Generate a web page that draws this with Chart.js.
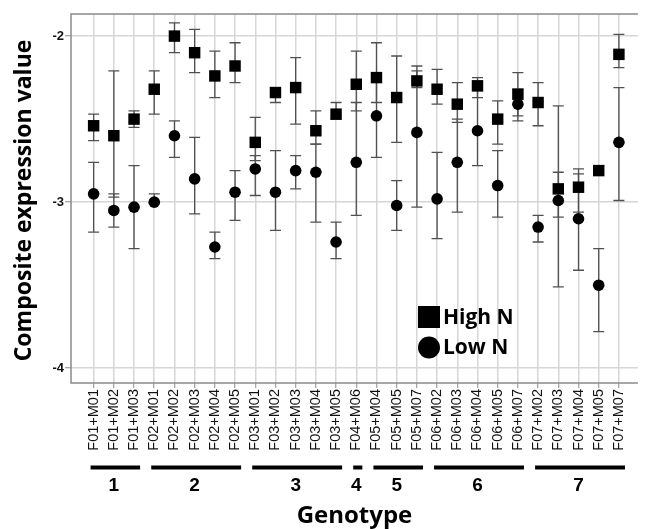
<!DOCTYPE html>
<html>
<head>
<meta charset="utf-8">
<script src="https://cdn.jsdelivr.net/npm/chart.js@4.4.1/dist/chart.umd.min.js"></script>
<style>
  html, body { margin: 0; padding: 0; background: #fff; }
  #wrap { width: 646px; height: 529px; }
</style>
</head>
<body>
<div id="wrap"><canvas id="exprChart" width="646" height="529"></canvas></div>
<script>
// genotypes along the x axis
const genotypes = ['F01+M01', 'F01+M02', 'F01+M03', 'F02+M01', 'F02+M02', 'F02+M03', 'F02+M04', 'F02+M05',
    'F03+M01', 'F03+M02', 'F03+M03', 'F03+M04', 'F03+M05', 'F04+M06', 'F05+M04', 'F05+M05', 'F05+M07',
    'F06+M02', 'F06+M03', 'F06+M04', 'F06+M05', 'F06+M07', 'F07+M02', 'F07+M03', 'F07+M04', 'F07+M05', 'F07+M07'];

// High N: mean, upper and lower end of error bar
const highN   = [-2.54, -2.60, -2.50, -2.32, -2.00, -2.10, -2.24, -2.18, -2.64, -2.34, -2.31, -2.57, -2.47, -2.29,
    -2.25, -2.37, -2.27, -2.32, -2.41, -2.30, -2.50, -2.35, -2.40, -2.92, -2.91, -2.81, -2.11];
const highTop = [-2.47, -2.21, -2.45, -2.21, -1.92, -1.96, -2.09, -2.04, -2.49, -2.31, -2.13, -2.45, -2.40, -2.09,
    -2.04, -2.12, -2.18, -2.20, -2.28, -2.25, -2.39, -2.22, -2.28, -2.82, -2.80, -2.78, -1.99];
const highBot = [-2.63, -2.97, -2.55, -2.47, -2.10, -2.22, -2.37, -2.28, -2.75, -2.40, -2.53, -2.65, -2.50, -2.45,
    -2.40, -2.64, -2.31, -2.41, -2.52, -2.37, -2.65, -2.48, -2.54, -3.09, -3.06, -2.82, -2.19];

// Low N
const lowN    = [-2.95, -3.05, -3.03, -3.00, -2.60, -2.86, -3.27, -2.94, -2.80, -2.94, -2.81, -2.82, -3.24, -2.76,
    -2.48, -3.02, -2.58, -2.98, -2.76, -2.57, -2.90, -2.41, -3.15, -2.99, -3.10, -3.50, -2.64];
const lowTop  = [-2.76, -2.95, -2.78, -2.95, -2.51, -2.61, -3.18, -2.81, -2.72, -2.69, -2.72, -2.65, -3.12, -2.40,
    -2.22, -2.87, -2.21, -2.70, -2.50, -2.27, -2.69, -2.32, -3.08, -2.42, -2.83, -3.28, -2.31];
const lowBot  = [-3.18, -3.15, -3.28, -3.01, -2.73, -3.07, -3.34, -3.11, -2.96, -3.17, -2.92, -3.12, -3.34, -3.08,
    -2.73, -3.17, -3.03, -3.22, -3.06, -2.78, -3.09, -2.51, -3.24, -3.51, -3.41, -3.78, -2.99];

const yTicks = [-4, -3, -2];

// genotype groups: label, first and last index
const groups = [['1', 0, 2], ['2', 3, 7], ['3', 8, 12], ['4', 13, 13], ['5', 14, 16], ['6', 17, 21], ['7', 22, 26]];

const LABEL_FONT = '"Liberation Sans", Arial, sans-serif';
const TITLE_FONT = '"Open Sans", sans-serif';

// error bars behind the markers
const errorBarPlugin = {
    id: 'errorBars',
    beforeDatasetsDraw(chart) {
        const ctx = chart.ctx;
        const xs = chart.scales.x, ys = chart.scales.y;
        const cap = 5.5;
        ctx.save();
        ctx.strokeStyle = '#505050';
        ctx.lineWidth = 1.3;
        const sets = [[highTop, highBot], [lowTop, lowBot]];
        sets.forEach(([top, bot]) => {
            top.forEach((t, i) => {
                const x = xs.getPixelForValue(i);
                const y1 = ys.getPixelForValue(t);
                const y2 = ys.getPixelForValue(bot[i]);
                ctx.beginPath();
                ctx.moveTo(x, y1); ctx.lineTo(x, y2);
                ctx.moveTo(x - cap, y1); ctx.lineTo(x + cap, y1);
                ctx.moveTo(x - cap, y2); ctx.lineTo(x + cap, y2);
                ctx.stroke();
            });
        });
        // plot frame (top, left, bottom)
        const a = chart.chartArea;
        ctx.strokeStyle = '#8a8a8a';
        ctx.lineWidth = 1.5;
        ctx.beginPath();
        ctx.moveTo(a.right, a.top); ctx.lineTo(a.left, a.top);
        ctx.lineTo(a.left, a.bottom); ctx.lineTo(a.right, a.bottom);
        ctx.stroke();
        ctx.restore();
    }
};

// titles, genotype group bars and legend
const decorPlugin = {
    id: 'decor',
    afterDraw(chart) {
        const ctx = chart.ctx;
        const xs = chart.scales.x;
        const a = chart.chartArea;
        ctx.save();
        ctx.fillStyle = '#000';

        // y axis title
        ctx.save();
        ctx.translate(24, (a.top + a.bottom) / 2 + 2);
        ctx.rotate(-Math.PI / 2);
        ctx.font = 'bold 23px ' + TITLE_FONT;
        ctx.textAlign = 'center';
        ctx.textBaseline = 'middle';
        ctx.fillText('Composite expression value', 0, 0);
        ctx.restore();

        // group bars + numbers
        ctx.font = 'bold 19px ' + LABEL_FONT;
        ctx.textAlign = 'center';
        ctx.textBaseline = 'middle';
        groups.forEach(([name, s, e]) => {
            const x1 = xs.getPixelForValue(s - 0.15);
            const x2 = xs.getPixelForValue(e + 0.3);
            ctx.fillRect(x1, 465.5, x2 - x1, 4);
            ctx.fillText(name, xs.getPixelForValue((s + e) / 2), 486);
        });

        // x axis title
        ctx.font = 'bold 24px ' + TITLE_FONT;
        ctx.fillText('Genotype', (a.left + a.right) / 2, 516);

        // legend
        ctx.fillRect(418, 306, 22, 22);
        ctx.beginPath();
        ctx.arc(429, 347.5, 11, 0, Math.PI * 2);
        ctx.fill();
        ctx.font = 'bold 21px ' + TITLE_FONT;
        ctx.textAlign = 'left';
        ctx.fillText('High N', 443, 318);
        ctx.fillText('Low N', 443, 348);
        ctx.restore();
    }
};

document.addEventListener('DOMContentLoaded', function() {
    const ctx = document.getElementById('exprChart').getContext('2d');
    const exprChart = new Chart(ctx, {
        type: 'scatter',
        data: {
            datasets: [{
                label: 'High N',
                data: highN.map((v, i) => ({ x: i, y: v })),
                pointStyle: 'rect',
                pointRadius: 8.1,
                pointHoverRadius: 8.1,
                backgroundColor: '#000',
                borderColor: '#000',
                borderWidth: 0
            }, {
                label: 'Low N',
                data: lowN.map((v, i) => ({ x: i, y: v })),
                pointStyle: 'circle',
                pointRadius: 5.8,
                pointHoverRadius: 5.8,
                backgroundColor: '#000',
                borderColor: '#000',
                borderWidth: 0
            }]
        },
        options: {
            responsive: false,
            animation: false,
            devicePixelRatio: 1,
            layout: { padding: { top: 14, left: 0, right: 0, bottom: 0 } },
            plugins: {
                legend: { display: false },
                tooltip: { enabled: false }
            },
            scales: {
                x: {
                    type: 'linear',
                    min: -1.12,
                    max: 26.94,
                    afterBuildTicks: scale => { scale.ticks = genotypes.map((g, i) => ({ value: i })); },
                    afterFit: scale => { scale.height = 146; scale.paddingLeft = 0; scale.paddingRight = 0; },
                    border: { display: false },
                    grid: { color: '#d6d6d6', lineWidth: 1.5, tickLength: 5, tickColor: '#8a8a8a', tickWidth: 1 },
                    ticks: {
                        autoSkip: false,
                        minRotation: 90,
                        maxRotation: 90,
                        padding: 1,
                        color: '#111',
                        font: { family: LABEL_FONT, size: 14.5 },
                        callback: v => genotypes[v]
                    }
                },
                y: {
                    min: -4.089,
                    max: -1.867,
                    afterBuildTicks: scale => { scale.ticks = yTicks.map(v => ({ value: v })); },
                    afterFit: scale => { scale.width = 71; },
                    border: { display: false },
                    grid: { color: '#d6d6d6', lineWidth: 1.5, tickLength: 6, tickColor: '#8a8a8a', tickWidth: 1 },
                    ticks: {
                        padding: 1,
                        color: '#111',
                        font: { family: LABEL_FONT, size: 13, weight: 'bold' },
                        callback: v => String(v)
                    }
                }
            }
        },
        plugins: [errorBarPlugin, decorPlugin]
    });
});
</script>
</body>
</html>
